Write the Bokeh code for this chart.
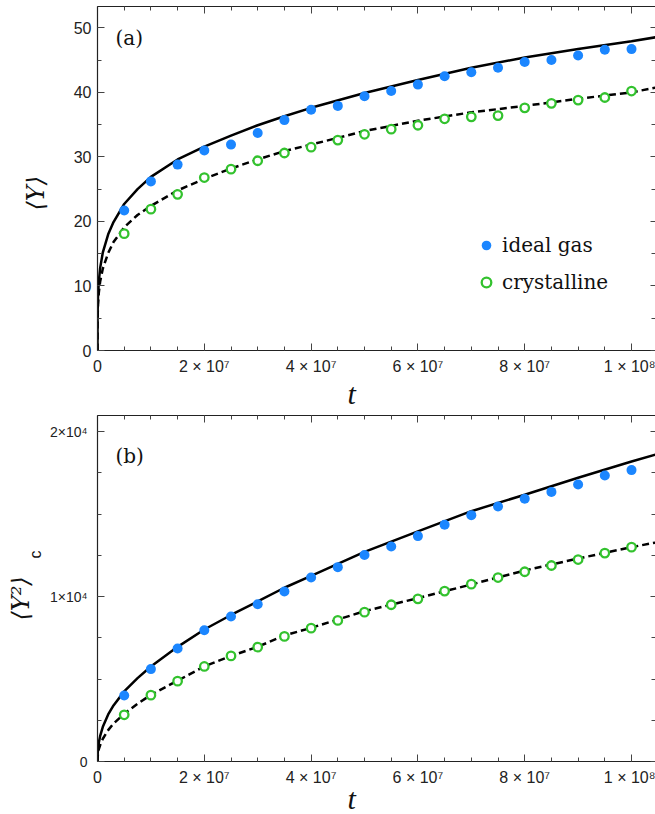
from bokeh.plotting import figure
from bokeh.layouts import column
from bokeh.models import (Range1d, LinearAxis, FixedTicker, Label, Legend, LegendItem,
                          ColumnDataSource, Title)
from bokeh.embed import file_html
from bokeh.resources import INLINE

# ---------------- data ----------------
t_data = [5e6, 1e7, 1.5e7, 2e7, 2.5e7, 3e7, 3.5e7, 4e7, 4.5e7, 5e7,
          5.5e7, 6e7, 6.5e7, 7e7, 7.5e7, 8e7, 8.5e7, 9e7, 9.5e7, 1e8]

# panel (a): <Y>
y_ideal = [21.7, 26.2, 28.8, 31.0, 31.9, 33.7, 35.7, 37.3, 37.9, 39.4,
           40.2, 41.2, 42.5, 43.1, 43.8, 44.7, 45.0, 45.7, 46.6, 46.7]
y_cryst = [18.1, 21.9, 24.2, 26.8, 28.1, 29.4, 30.6, 31.5, 32.6, 33.5,
           34.3, 34.9, 35.9, 36.2, 36.4, 37.6, 38.3, 38.8, 39.2, 40.2]

# panel (b): <Y^2>_c
v_ideal = [4000, 5600, 6850, 7960, 8790, 9530, 10300, 11150, 11780, 12520,
           13030, 13660, 14350, 14930, 15450, 15920, 16340, 16790, 17330, 17660]
v_cryst = [2830, 4020, 4870, 5760, 6400, 6930, 7580, 8080, 8550, 9050,
           9500, 9860, 10330, 10750, 11150, 11500, 11880, 12240, 12630, 12990]

# theory curves
t_curve = [0, 1e4, 5e4, 1e5, 2.5e5, 5e5, 1e6, 2e6, 3e6, 5e6, 7.5e6, 1e7, 1.5e7,
           2e7, 2.5e7, 3e7, 3.5e7, 4e7, 5e7, 6e7, 7e7, 8e7, 9e7, 1e8, 1.05e8]
y_solid = [0, 4.8, 7.1, 8.5, 10.7, 12.8, 15.2, 18.0, 19.9, 22.7, 25.0, 26.9, 29.6,
           31.6, 33.3, 34.9, 36.3, 37.6, 39.9, 41.9, 43.8, 45.4, 46.7, 47.9, 48.6]
y_dashed = [0, 4.0, 5.9, 7.1, 9.0, 10.7, 12.7, 15.1, 16.8, 19.1, 21.0, 22.4, 24.8,
            26.6, 28.2, 29.6, 30.9, 31.9, 34.0, 35.6, 36.9, 37.9, 39.0, 40.0, 40.8]
v_solid = [0, 250, 550, 750, 1150, 1550, 2100, 2850, 3400, 4250, 5050, 5760, 6950,
           8000, 8880, 9700, 10530, 11250, 12700, 13950, 15170, 16170, 17200, 18180, 18650]
v_dashed = [0, 150, 350, 480, 750, 1000, 1380, 1900, 2300, 2890, 3500, 4040, 4900,
            5760, 6400, 6950, 7640, 8100, 9110, 9900, 10730, 11580, 12300, 12990, 13300]

x_major = [0, 20000000, 40000000, 60000000, 80000000, 100000000]
x_labels = ["0", "2 \u00d7 10\u2077", "4 \u00d7 10\u2077",
            "6 \u00d7 10\u2077", "8 \u00d7 10\u2077", "1 \u00d7 10\u2078"]
x_minor = [0, 5000000, 10000000, 15000000, 20000000, 25000000, 30000000, 35000000,
           40000000, 45000000, 50000000, 55000000, 60000000, 65000000, 70000000,
           75000000, 80000000, 85000000, 90000000, 95000000, 100000000]

ya_major = [0, 10, 20, 30, 40, 50]
ya_minor = [0, 5, 10, 15, 20, 25, 30, 35, 40, 45, 50]
yb_major = [0, 10000, 20000]
yb_labels = ["0", "1\u00d710\u2074", "2\u00d710\u2074"]
yb_minor = [0, 2500, 5000, 7500, 10000, 12500, 15000, 17500, 20000]

BLUE = "#1b86ff"
GREEN = "#33c22e"
AX = "#222222"
TXT = "#111111"
TICKFONT = "Liberation Sans"


def style_axis(ax, major, minor, labels=None, show_labels=True, line=True,
               fs="16px", standoff=6):
    ax.ticker = FixedTicker(ticks=major, minor_ticks=minor)
    ax.major_tick_in = 7
    ax.major_tick_out = 0
    ax.minor_tick_in = 4
    ax.minor_tick_out = 0
    ax.major_tick_line_color = "#444444"
    ax.minor_tick_line_color = "#444444"
    ax.axis_line_color = AX if line else None
    ax.axis_line_width = 1.2
    if show_labels:
        if labels is not None:
            ax.major_label_overrides = {m: l for m, l in zip(major, labels)}
        ax.major_label_text_font = TICKFONT
        ax.major_label_text_font_size = fs
        ax.major_label_text_color = "#222222"
        ax.major_label_standoff = standoff
    else:
        ax.major_label_text_font_size = "1px"
        ax.major_label_text_color = None
        ax.major_label_standoff = 0


def make_panel(fh, yend, ymaj, ymin, ylabels, yfs, ystandoff, top_border, bottom_border):
    p = figure(frame_width=558, frame_height=fh,
               x_range=Range1d(0, 1.0449e8), y_range=Range1d(0, yend),
               output_backend="svg", toolbar_location=None,
               x_axis_location=None, y_axis_location=None,
               min_border_left=97, min_border_right=0,
               min_border_top=top_border, min_border_bottom=bottom_border,
               background_fill_color="white", border_fill_color="white")
    p.outline_line_color = None
    p.xgrid.visible = False
    p.ygrid.visible = False
    bx = LinearAxis(); style_axis(bx, x_major, x_minor, x_labels, standoff=7)
    tx = LinearAxis(); style_axis(tx, x_major, x_minor, show_labels=False)
    ly = LinearAxis(); style_axis(ly, ymaj, ymin, ylabels, fs=yfs, standoff=ystandoff)
    ry = LinearAxis(); style_axis(ry, ymaj, ymin, show_labels=False, line=False)
    ry.major_tick_in = 5
    p.add_layout(bx, "below")
    p.add_layout(tx, "above")
    p.add_layout(ly, "left")
    p.add_layout(ry, "right")
    return p


def t_title(standoff):
    return Title(text="t", align="left", offset=250, standoff=standoff,
                 text_font="Liberation Serif", text_font_style="italic",
                 text_font_size="30px", text_color=TXT)


# ---------------- panel (a) ----------------
p1 = make_panel(344, 53.3, ya_major, ya_minor, None, "16px", 6, 6, 62)
src_a = ColumnDataSource(dict(t=t_data, ideal=y_ideal, cryst=y_cryst))
src_ac = ColumnDataSource(dict(t=t_curve, s=y_solid, d=y_dashed))
p1.line("t", "s", source=src_ac, line_color="black", line_width=2.5)
p1.line("t", "d", source=src_ac, line_color="black", line_width=2.5, line_dash="7 4")
r_ideal = p1.scatter("t", "ideal", source=src_a, marker="circle", size=10,
                     fill_color=BLUE, line_color=None)
r_cryst = p1.scatter("t", "cryst", source=src_a, marker="circle", size=8.5,
                     fill_color="white", line_color=GREEN, line_width=2.3)

legend = Legend(items=[LegendItem(label="ideal gas", renderers=[r_ideal]),
                       LegendItem(label="crystalline", renderers=[r_cryst])],
                location=(377, 56), padding=0, margin=0, spacing=13,
                glyph_width=24, glyph_height=24, label_height=24, label_standoff=4,
                label_text_font="DejaVu Serif", label_text_font_size="20px",
                label_text_color=TXT, border_line_color=None,
                background_fill_alpha=0)
p1.add_layout(legend)

p1.add_layout(Label(x=18, y=344 - 31, x_units="screen", y_units="screen", text="(a)",
                    text_font="DejaVu Serif", text_font_size="20px", text_color=TXT,
                    text_align="left", text_baseline="middle"))
p1.add_layout(t_title(-6), "below")
p1.add_layout(Title(text="\u27e8Y\u27e9", align="left", offset=140, standoff=37,
                    vertical_align="top",
                    text_font="DejaVu Serif", text_font_style="italic",
                    text_font_size="24px", text_color=TXT), "left")

# ---------------- panel (b) ----------------
p2 = make_panel(346, 20970, yb_major, yb_minor, yb_labels, "14px", 10, 3, 53)
src_b = ColumnDataSource(dict(t=t_data, ideal=v_ideal, cryst=v_cryst))
src_bc = ColumnDataSource(dict(t=t_curve, s=v_solid, d=v_dashed))
p2.line("t", "s", source=src_bc, line_color="black", line_width=2.5)
p2.line("t", "d", source=src_bc, line_color="black", line_width=2.5, line_dash="7 4")
p2.scatter("t", "ideal", source=src_b, marker="circle", size=10,
           fill_color=BLUE, line_color=None)
p2.scatter("t", "cryst", source=src_b, marker="circle", size=8.5,
           fill_color="white", line_color=GREEN, line_width=2.3)

p2.add_layout(Label(x=18, y=346 - 40, x_units="screen", y_units="screen", text="(b)",
                    text_font="DejaVu Serif", text_font_size="20px", text_color=TXT,
                    text_align="left", text_baseline="middle"))
p2.add_layout(t_title(-18), "below")
p2.add_layout(Title(text="c", align="left", offset=203, standoff=2,
                    vertical_align="top",
                    text_font="Liberation Sans", text_font_style="normal",
                    text_font_size="16px", text_color=TXT), "left")
p2.add_layout(Title(text="\u27e8Y\u00b2\u27e9", align="left", offset=141, standoff=-22,
                    vertical_align="top",
                    text_font="DejaVu Serif", text_font_style="italic",
                    text_font_size="24px", text_color=TXT), "left")

layout = column(p1, p2, spacing=0)
open("out.html", "w").write(file_html(layout, INLINE))
